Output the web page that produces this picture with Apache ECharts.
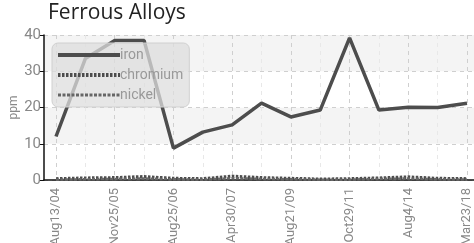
<!DOCTYPE html>
<html>
<head>
<meta charset="utf-8">
<script src="https://cdn.jsdelivr.net/npm/echarts@6/dist/echarts.min.js"></script>
<style>
  html, body { margin: 0; padding: 0; background: #fff; }
  #main { width: 474px; height: 243px; }
</style>
</head>
<body>
<div id="main"></div>
<script>
// sample dates (only every other one is labelled on the axis)
var dates = ["Aug13/04", "Mar2/05", "Nov25/05", "Apr12/06", "Aug25/06", "Dec14/06", "Apr30/07",
  "Sep18/08", "Aug21/09", "Jul6/10", "Oct29/11", "Feb3/13", "Aug4/14", "Jun10/16", "Mar23/18"];
var iron = [12, 33.5, 38.5, 38.5, 8.8, 13.2, 15.2, 21.2, 17.4, 19.3, 39.2, 19.3, 20.1, 20, 21.2];
var chromium = [0.3, 0.5, 0.6, 0.9, 0.4, 0.3, 1.0, 0.6, 0.4, 0.2, 0.3, 0.5, 0.8, 0.4, 0.3];
var nickel = [0.1, 0.2, 0.3, 0.4, 0.2, 0.1, 0.5, 0.3, 0.2, 0.1, 0.1, 0.3, 0.4, 0.2, 0.1];
var yTicks = [0, 10, 20, 30, 40];

var labelFont = "'Liberation Sans Narrow', 'Roboto', sans-serif";
var lineColor = "#4d4d4d";

var chart = echarts.init(document.getElementById("main"));

var option = {
  animation: false,
  title: {
    text: "Ferrous Alloys",
    left: 48,
    top: 3,
    padding: 0,
    textStyle: { fontFamily: "'Open Sans', sans-serif", fontSize: 21, fontWeight: "normal", color: "#222" }
  },
  legend: {
    orient: "vertical",
    left: 52,
    top: 43,
    padding: [5, 6, 5, 4],
    itemWidth: 62,
    itemHeight: 11,
    itemGap: 6,
    backgroundColor: "rgba(222,222,222,0.75)",
    borderColor: "#d0d0d0",
    borderWidth: 1,
    borderRadius: 6,
    itemStyle: { opacity: 0 },
    textStyle: { fontFamily: labelFont, fontSize: 14, color: "#999", padding: [0, 0, 0, -5] },
    data: [
      { name: "iron", lineStyle: { width: 4 } },
      { name: "chromium", lineStyle: { width: 4 } },
      { name: "nickel", lineStyle: { width: 3 } }
    ]
  },
  // grid 0: frame, bands, horizontal lines; grid 1: the data
  grid: [
    { left: 44, right: 0, top: 35, bottom: 63, outerBoundsMode: "none" },
    { left: 56, right: 7, top: 35, bottom: 63, outerBoundsMode: "none" }
  ],
  xAxis: [
    {
      gridIndex: 0, type: "value", min: 0, max: 1,
      axisLine: { show: true, lineStyle: { color: "#111", width: 1.5 } },
      axisTick: { show: false }, axisLabel: { show: false }, splitLine: { show: false }
    },
    {
      gridIndex: 1, type: "category", data: dates, boundaryGap: false,
      axisLine: { show: false },
      axisTick: { show: false },
      axisLabel: {
        interval: 1, rotate: 90, margin: 8,
        fontFamily: labelFont, fontSize: 13, color: "#888"
      },
      splitLine: {
        show: true, interval: 0,
        lineStyle: { type: [4, 4], color: ["#cfcfcf", "#e8e8e8"], width: 1 }
      }
    }
  ],
  yAxis: [
    {
      gridIndex: 0, type: "value", min: yTicks[0], max: yTicks[yTicks.length - 1], interval: 10,
      name: "ppm", nameLocation: "middle", nameGap: 24, nameMoveOverlap: false,
      nameTextStyle: { fontFamily: labelFont, fontSize: 12, color: "#888" },
      axisLine: { show: true, lineStyle: { color: "#111", width: 1.5 } },
      axisTick: { show: true, length: 5, lineStyle: { color: "#111" } },
      axisLabel: { margin: 3, fontFamily: labelFont, fontSize: 15, color: "#888" },
      splitLine: { show: true, lineStyle: { type: [4, 4], color: "#cfcfcf" } },
      splitArea: { show: true, areaStyle: { color: ["#ffffff", "#f4f4f4"] } }
    },
    {
      gridIndex: 1, type: "value", min: yTicks[0], max: yTicks[yTicks.length - 1],
      show: false
    }
  ],
  series: [
    {
      name: "iron", type: "line", xAxisIndex: 1, yAxisIndex: 1,
      data: iron, symbol: "none",
      itemStyle: { color: lineColor },
      lineStyle: { color: lineColor, width: 3.5 }
    },
    {
      name: "chromium", type: "line", xAxisIndex: 1, yAxisIndex: 1,
      data: chromium, symbol: "none",
      itemStyle: { color: lineColor },
      lineStyle: { color: lineColor, width: 3.5, type: [2.5, 1.5] }
    },
    {
      name: "nickel", type: "line", xAxisIndex: 1, yAxisIndex: 1,
      data: nickel, symbol: "none",
      itemStyle: { color: "#666" },
      lineStyle: { color: "#666", width: 2.5, type: [3, 1.5] }
    }
  ]
};

chart.setOption(option);
</script>
</body>
</html>
